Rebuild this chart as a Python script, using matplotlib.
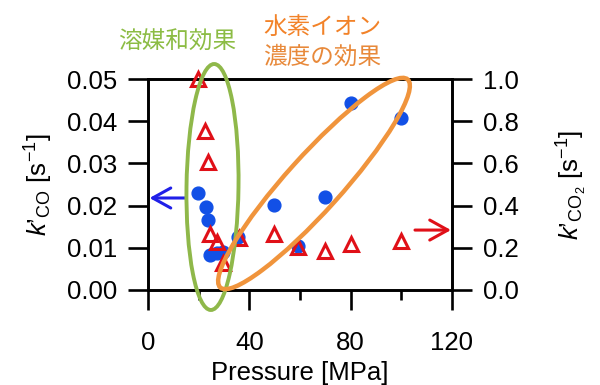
import matplotlib
matplotlib.use("Agg")
import matplotlib.pyplot as plt
from matplotlib.patches import Ellipse
from matplotlib.ticker import FormatStrFormatter

# fonts: Arial-like for the axes, Japanese gothic for the notes
plt.rcParams['font.family'] = ['Liberation Sans', 'DejaVu Sans']
plt.rcParams['mathtext.fontset'] = 'custom'
plt.rcParams['mathtext.rm'] = 'Liberation Sans'
plt.rcParams['mathtext.it'] = 'Liberation Sans:italic'

# data
pressure_co = [19.9, 22.8, 23.6, 24.5, 27.1, 29.7, 35.6, 49.9, 59.3, 69.9, 80.0, 99.8]
k_co = [0.0231, 0.0197, 0.0166, 0.0083, 0.0087, 0.0089, 0.0126, 0.0201, 0.0104, 0.0221, 0.0442, 0.0408]

pressure_co2 = [19.6, 22.5, 23.6, 24.5, 27.1, 29.5, 36.0, 49.7, 59.3, 69.9, 80.0, 99.8]
k_co2 = [1.0, 0.755, 0.608, 0.264, 0.229, 0.129, 0.245, 0.265, 0.206, 0.185, 0.216, 0.234]

x_ticks = [0, 40, 80, 120]
x_minor = [20, 60, 100]
co_ticks = [0.00, 0.01, 0.02, 0.03, 0.04, 0.05]
co2_ticks = [0.0, 0.2, 0.4, 0.6, 0.8, 1.0]

blue = '#1250e6'
red = '#e01018'
green = '#8fb84a'
orange = '#f0943c'

fig = plt.figure(figsize=(6, 3.85), dpi=100)
ax = fig.add_axes([0.2467, 0.2468, 0.5066, 0.548])
ax2 = ax.twinx()

ax.plot(pressure_co, k_co, 'o', color=blue, ms=9.2, mec=blue, clip_on=False, zorder=3)
ax2.plot(pressure_co2, k_co2, '^', ms=9.5, mfc='none', mec=red, mew=2.2,
         clip_on=False, zorder=3)

ax.set_xlim(0, 120)
ax.set_ylim(0, 0.05)
ax2.set_ylim(0, 1.0)
ax.set_xticks(x_ticks)
ax.set_xticks(x_minor, minor=True)
ax.set_yticks(co_ticks)
ax2.set_yticks(co2_ticks)
ax.yaxis.set_major_formatter(FormatStrFormatter('%.2f'))
ax2.yaxis.set_major_formatter(FormatStrFormatter('%.1f'))

for a in (ax, ax2):
    for s in a.spines.values():
        s.set_linewidth(1.9)
    a.tick_params(which='major', direction='out', length=14.5, width=1.9,
                  labelsize=18.5, pad=7.5)
ax.tick_params(axis='x', which='major', pad=15)
ax.tick_params(axis='x', which='minor', direction='out', length=7, width=1.9)

ax.set_xlabel('Pressure [MPa]', fontsize=18.5, labelpad=4.5)
ax.set_ylabel(r"$k$’$_{\rm CO}$ [s$^{-1}$]", fontsize=18.5)
ax2.set_ylabel(r"$k$’$_{\rm CO_2}$ [s$^{-1}$]", fontsize=18.5)
ax.yaxis.set_label_coords(-0.306, 0.50)
ax2.yaxis.set_label_coords(1.339, 0.50)

# arrows pointing to each axis
ax.annotate('', xy=(0.6, 0.0218), xytext=(14.6, 0.0218),
            arrowprops=dict(arrowstyle='->,head_length=0.65,head_width=0.36',
                            color='#2020e8', lw=2.2, mutation_scale=20,
                            shrinkA=0, shrinkB=0), annotation_clip=False)
ax2.annotate('', xy=(119.6, 0.284), xytext=(105.4, 0.284),
             arrowprops=dict(arrowstyle='->,head_length=0.65,head_width=0.36',
                             color=red, lw=2.2, mutation_scale=20,
                             shrinkA=0, shrinkB=0), annotation_clip=False)

# hand drawn style ellipses (inch coords on the figure)
e1 = Ellipse((2.125, 1.98), 0.52, 2.46, angle=-0.8, fill=False, ec=green,
             lw=2.8, transform=fig.dpi_scale_trans, clip_on=False, zorder=5)
e2 = Ellipse((3.14, 2.015), 2.80, 0.55, angle=48, fill=False, ec=orange,
             lw=3.2, transform=fig.dpi_scale_trans, clip_on=False, zorder=5)
ax2.add_artist(e1)
ax2.add_artist(e2)

jp = ['Noto Sans CJK JP', 'DejaVu Sans']
fig.text(0.295, 0.8896, '溶媒和効果', color='#8cbc44', fontsize=17,
         family=jp, ha='center', va='center')
fig.text(0.537, 0.9286, '水素イオン', color='#f28228', fontsize=17,
         family=jp, ha='center', va='center')
fig.text(0.537, 0.8506, '濃度の効果', color='#e8893a', fontsize=17,
         family=jp, ha='center', va='center')

fig.savefig('out.png', dpi=100)
